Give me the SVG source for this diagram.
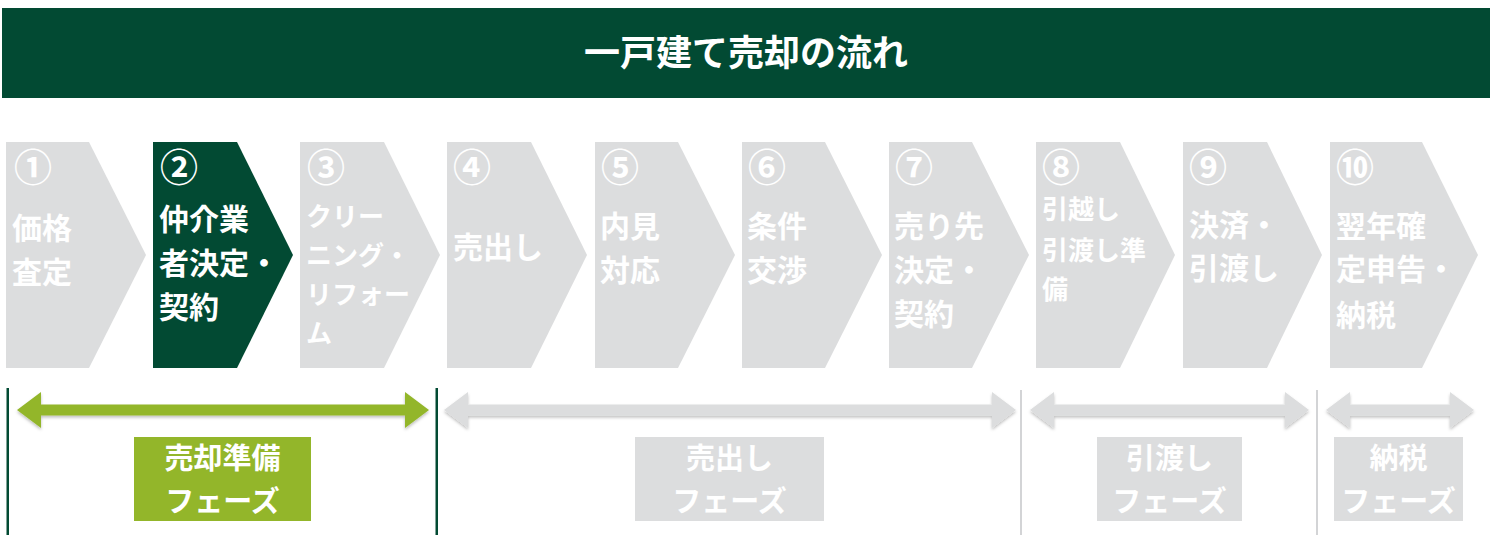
<svg xmlns="http://www.w3.org/2000/svg" width="1492" height="535" viewBox="0 0 1492 535">
<style>
.t{font-family:"Noto Sans CJK JP","Noto Sans CJK SC",sans-serif;font-weight:bold;fill:#fff}
.n{font-size:38px}
.l{font-size:30px}
.s{font-size:26px}
.p{font-size:29px;text-anchor:middle}
.g{fill:#dcddde}
.d{fill:#024a33}
</style>
<defs>
<filter id="sh" x="-5%" y="-30%" width="110%" height="170%">
<feDropShadow dx="0" dy="2" stdDeviation="1.5" flood-color="#000" flood-opacity="0.25"/>
</filter>
</defs>
<rect width="1492" height="535" fill="#fff"/>
<g id="title">
<rect x="2" y="8" width="1488" height="90" class="d"/>
<text x="746" y="66" class="t" font-size="36" text-anchor="middle">一戸建て売却の流れ</text>
</g>
<g id="step1">
<polygon class="g" points="6,142 89,142 146,255 89,368 6,368"/>
<text class="t n" x="14" y="181">①</text>
<text class="t l" x="12" y="239">価格</text>
<text class="t l" x="12" y="283">査定</text>
</g>
<g id="step2">
<polygon class="d" points="153,142 237,142 293,255 237,368 153,368"/>
<text class="t n" x="160" y="181">②</text>
<text class="t l" x="159" y="230">仲介業</text>
<text class="t l" x="159" y="274">者決定・</text>
<text class="t l" x="159" y="318">契約</text>
</g>
<g id="step3">
<polygon class="g" points="300,142 384,142 440,255 384,368 300,368"/>
<text class="t n" x="307" y="181">③</text>
<text class="t s" x="306" y="226">クリー</text>
<text class="t s" x="306" y="265">ニング・</text>
<text class="t s" x="306" y="304">リフォー</text>
<text class="t s" x="306" y="343">ム</text>
</g>
<g id="step4">
<polygon class="g" points="447,142 531,142 587,255 531,368 447,368"/>
<text class="t n" x="453" y="181">④</text>
<text class="t l" x="453" y="258">売出し</text>
</g>
<g id="step5">
<polygon class="g" points="595,142 678,142 735,255 678,368 595,368"/>
<text class="t n" x="601" y="181">⑤</text>
<text class="t l" x="600" y="237">内見</text>
<text class="t l" x="600" y="281">対応</text>
</g>
<g id="step6">
<polygon class="g" points="742,142 825,142 882,255 825,368 742,368"/>
<text class="t n" x="748" y="181">⑥</text>
<text class="t l" x="747" y="237">条件</text>
<text class="t l" x="747" y="281">交渉</text>
</g>
<g id="step7">
<polygon class="g" points="889,142 972,142 1029,255 972,368 889,368"/>
<text class="t n" x="895" y="181">⑦</text>
<text class="t l" x="894" y="237">売り先</text>
<text class="t l" x="894" y="281">決定・</text>
<text class="t l" x="894" y="325">契約</text>
</g>
<g id="step8">
<polygon class="g" points="1036,142 1120,142 1175,255 1120,368 1036,368"/>
<text class="t n" x="1042" y="181">⑧</text>
<text class="t s" x="1042" y="219">引越し</text>
<text class="t s" x="1042" y="260">引渡し準</text>
<text class="t s" x="1042" y="299">備</text>
</g>
<g id="step9">
<polygon class="g" points="1183,142 1267,142 1322,255 1267,368 1183,368"/>
<text class="t n" x="1189" y="181">⑨</text>
<text class="t l" x="1189" y="236">決済・</text>
<text class="t l" x="1189" y="279">引渡し</text>
</g>
<g id="step10">
<polygon class="g" points="1330,142 1422,142 1478,255 1422,368 1330,368"/>
<text class="t n" x="1336" y="181">⑩</text>
<text class="t l" x="1336" y="237">翌年確</text>
<text class="t l" x="1336" y="280">定申告・</text>
<text class="t l" x="1336" y="326">納税</text>
</g>
<g id="connectors">
<rect x="6.5" y="388" width="2.5" height="147" fill="#024a33"/>
<rect x="435.5" y="388" width="2.5" height="147" fill="#024a33"/>
<rect x="1020" y="390" width="2" height="145" fill="#d3d4d6"/>
<rect x="1316" y="390" width="2" height="145" fill="#d3d4d6"/>
<polygon filter="url(#sh)" fill="#93b62a" points="17,410 41,392 41,404.5 405,404.5 405,392 429,410 405,428 405,415.5 41,415.5 41,428"/>
<polygon filter="url(#sh)" class="g" points="444,410 468,392 468,404.5 992,404.5 992,392 1016,410 992,428 992,415.5 468,415.5 468,428"/>
<polygon filter="url(#sh)" class="g" points="1030,410 1054,392 1054,404.5 1285,404.5 1285,392 1309,410 1285,428 1285,415.5 1054,415.5 1054,428"/>
<polygon filter="url(#sh)" class="g" points="1326,410 1350,392 1350,404.5 1450,404.5 1450,392 1474,410 1450,428 1450,415.5 1350,415.5 1350,428"/>
</g>
<g id="phase1">
<rect x="134" y="437" width="177" height="84" fill="#93b62a"/>
<text class="t p" x="222.5" y="469">売却準備</text>
<text class="t p" x="222.5" y="512">フェーズ</text>
</g>
<g id="phase2">
<rect x="635" y="437" width="189" height="84" class="g"/>
<text class="t p" x="729.5" y="469">売出し</text>
<text class="t p" x="729.5" y="512">フェーズ</text>
</g>
<g id="phase3">
<rect x="1097" y="437" width="145" height="84" class="g"/>
<text class="t p" x="1169.5" y="469">引渡し</text>
<text class="t p" x="1169.5" y="512">フェーズ</text>
</g>
<g id="phase4">
<rect x="1334" y="437" width="129" height="84" class="g"/>
<text class="t p" x="1398.5" y="469">納税</text>
<text class="t p" x="1398.5" y="512">フェーズ</text>
</g>
</svg>
